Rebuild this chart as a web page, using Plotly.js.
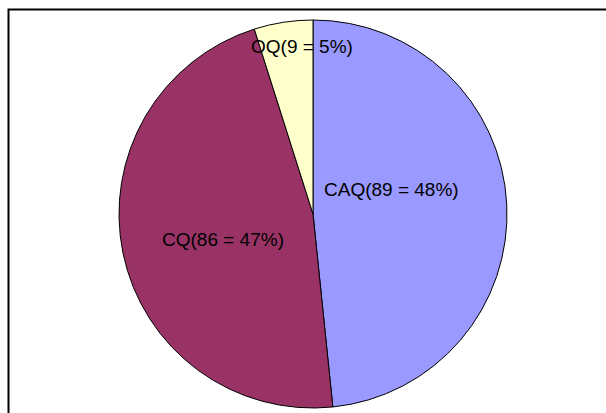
<!DOCTYPE html>
<html>
<head>
<meta charset="utf-8">
<script src="https://cdn.plot.ly/plotly-3.0.1.min.js"></script>
<style>html,body{margin:0;padding:0;background:#fff;}#chart{width:606px;height:413px;}</style>
</head>
<body>
<div id="chart"></div>
<script>
const categories = ["CAQ", "CQ", "OQ"];
const counts = [89, 86, 9];
const percents = [48, 47, 5];
const colors = ["#9999FF", "#993366", "#FFFFCC"];
// label anchor positions (paper px) - layout only
const labelPos = [[391, 189], [223, 239], [302, 47]];

const W = 606, H = 413;
const labels = categories.map((c, i) => c + "(" + counts[i] + " = " + percents[i] + "%)");

const cx = 313, cy = 214, r = 194;
const data = [{
  type: "pie",
  labels: categories,
  values: counts,
  sort: false,
  direction: "clockwise",
  rotation: 0,
  textinfo: "none",
  hoverinfo: "label+value+percent",
  marker: {colors: colors, line: {color: "#000", width: 1}},
  domain: {x: [(cx - r) / W, (cx + r) / W], y: [1 - (cy + r) / H, 1 - (cy - r) / H]},
  showlegend: false
}];

const layout = {
  width: W, height: H,
  margin: {l: 0, r: 0, t: 0, b: 0},
  paper_bgcolor: "#fff",
  showlegend: false,
  shapes: [{
    type: "rect", xref: "paper", yref: "paper",
    x0: 8.5 / W, x1: 1.2, y0: -0.2, y1: 1 - 9.5 / H,
    line: {color: "#000", width: 2}, fillcolor: "rgba(0,0,0,0)"
  }],
  annotations: labels.map((t, i) => ({
    text: t, xref: "paper", yref: "paper",
    x: labelPos[i][0] / W, y: 1 - labelPos[i][1] / H,
    xanchor: "center", yanchor: "middle", showarrow: false,
    font: {family: "Liberation Sans, Arial, sans-serif", size: 19, color: "#000"}
  }))
};

Plotly.newPlot("chart", data, layout, {displayModeBar: false, staticPlot: true});
</script>
</body>
</html>
